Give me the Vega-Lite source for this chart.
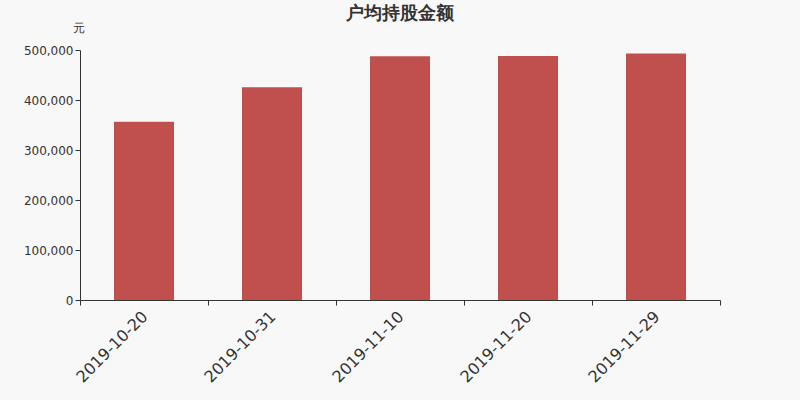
{
  "$schema": "https://vega.github.io/schema/vega-lite/v6.json",
  "width": 640,
  "height": 250,
  "autosize": "none",
  "padding": {"left": 80, "top": 50, "right": 80, "bottom": 100},
  "background": "#f8f8f8",
  "title": {
    "text": "户均持股金额",
    "anchor": "middle",
    "fontSize": 18,
    "fontWeight": "bold",
    "font": "DejaVu Sans",
    "color": "#333333",
    "offset": 0,
    "dy": 2
  },
  "config": {
    "view": {"stroke": null},
    "font": "DejaVu Sans"
  },
  "data": {
    "values": [
      {"date": "2019-10-20", "amount": 356600},
      {"date": "2019-10-31", "amount": 425400},
      {"date": "2019-11-10", "amount": 487600},
      {"date": "2019-11-20", "amount": 487800},
      {"date": "2019-11-29", "amount": 493200}
    ]
  },
  "mark": {"type": "bar", "color": "#c0504d", "width": {"band": 0.469}},
  "encoding": {
    "x": {
      "field": "date",
      "type": "nominal",
      "sort": null,
      "scale": {"paddingInner": 0, "paddingOuter": 0},
      "axis": {
        "title": null,
        "labelAngle": -45,
        "labelAlign": "right",
        "labelBaseline": "top",
        "labelFontSize": 16,
        "labelColor": "#333333",
        "labelPadding": 3,
        "labelOffset": -5,
        "tickBand": "extent",
        "tickSize": 5,
        "tickColor": "#333333",
        "domainColor": "#333333"
      }
    },
    "y": {
      "field": "amount",
      "type": "quantitative",
      "scale": {"domain": [0, 500000]},
      "axis": {
        "title": "元",
        "titleAngle": 0,
        "titleX": -2,
        "titleY": -16,
        "titleAlign": "center",
        "titleFontSize": 12,
        "titleFontWeight": "normal",
        "titleColor": "#333333",
        "values": [0, 100000, 200000, 300000, 400000, 500000],
        "format": ",d",
        "grid": false,
        "labelFontSize": 12,
        "labelColor": "#333333",
        "tickSize": 5,
        "tickColor": "#333333",
        "domainColor": "#333333"
      }
    }
  }
}
